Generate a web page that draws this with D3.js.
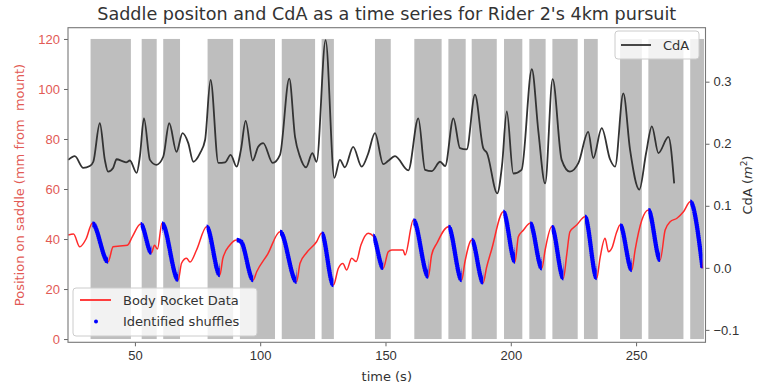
<!DOCTYPE html>
<html>
<head>
<meta charset="utf-8">
<script src="https://cdn.jsdelivr.net/npm/d3@7"></script>
<style>
  html, body { margin: 0; padding: 0; background: #fff; }
  svg { display: block; font-family: "DejaVu Sans", sans-serif; }
  .axis path { display: none; }
  .axis text { font-size: 13px; }
</style>
</head>
<body>
<svg id="chart" width="767" height="385"></svg>
<script>
// Saddle position (mm): [time s, position]
const saddleData = [
  [23.4, 41.6], [25.5, 42], [28, 36.9], [30.5, 40], [33, 46.3], [39.3, 30.9],
  [41.3, 36.9], [44, 37.2], [47, 37.5], [49, 41], [52.3, 46], [56.6, 34.5],
  [57.8, 37.5], [59, 36], [60.8, 46.3], [67.3, 23.6], [68.6, 30.3], [70.6, 32.3],
  [72, 30.8], [74.6, 35.6], [78.6, 44.9], [83.9, 25.6], [85.1, 32.3], [87.9, 37.6],
  [90.6, 39.6], [92.3, 39], [97.2, 23.6], [98.6, 26.9], [103, 34], [107.9, 42.9],
  [114.5, 22.9], [115.9, 30.3], [118.5, 34.5], [122.5, 38.9], [124.5, 42.3],
  [129.2, 21.6], [131.2, 28.3], [133, 30.2], [134.5, 27.6], [136.5, 32.3],
  [138.3, 31], [140.2, 37.6], [143.1, 42.3], [145.1, 41.2], [149.1, 28.3],
  [151.1, 34.9], [152.5, 35.6], [157, 35.6], [157.8, 33.6], [161.1, 47.6],
  [167.1, 24.9], [168.4, 33.6], [170.5, 38.3], [175.1, 44.9], [180.4, 23.6],
  [181.7, 30.9], [184.4, 39.6], [189, 22.5], [190.3, 28.5], [192.3, 35.6],
  [197, 50.9], [201.7, 30.9], [203, 40.9], [205, 43.5], [207.7, 46.3],
  [212.4, 28.3], [213.7, 35.6], [216.3, 44.9], [221, 24.3], [222.3, 33.6],
  [223.6, 42.9], [226.3, 45.6], [229.6, 48.9], [234.3, 24.3], [235.6, 32.3],
  [237.6, 40.3], [239, 34.9], [240.3, 36.3], [242.3, 42.9], [243.6, 45.6],
  [248.3, 27.6], [249.6, 35.6], [252.3, 47.6], [254.9, 51.6], [259.6, 31.6],
  [261.6, 43.6], [263.6, 46.9], [266.3, 48.3], [268.9, 50.9], [271.6, 54.9],
  [276.5, 28.3]
];

// Time windows where shuffles were identified (blue dots), [start, end]
const shuffleWindows = [
  [33, 39.3], [52.3, 56.6], [60.8, 67.3], [78.6, 83.9], [90.6, 97.2],
  [107.9, 114.5], [124.5, 129.2], [145.1, 149.1], [161.1, 167.1], [175.1, 180.4],
  [184.4, 189], [197, 201.7], [207.7, 212.4], [216.3, 221], [229.6, 234.3],
  [243.6, 248.3], [254.9, 259.6], [271.6, 276.5]
];

// Grey shaded spans, [start, end] in seconds
const greySpans = [
  [32.3, 48.4], [52.7, 58.7], [61.3, 68.0], [79.0, 89.2], [91.9, 105.9],
  [108.6, 121.9], [124.5, 129.4], [145.8, 152.1], [161.5, 172.4], [175.1, 182.0],
  [184.4, 194.4], [197.3, 204.6], [207.4, 213.9], [216.6, 226.7], [229.2, 234.7],
  [243.6, 252.3], [254.9, 268.9], [271.6, 277.1]
];
const spanRange = [0, 120];

// CdA (m^2): [time s, CdA]
const cdaData = [
  [23.4, 0.174], [26, 0.180], [29.4, 0.161], [32, 0.164], [33.4, 0.171], [36, 0.233],
  [38, 0.174], [39.3, 0.155], [41.3, 0.161], [42.7, 0.175], [45, 0.172], [46.5, 0.170],
  [48, 0.173], [50.7, 0.153], [52, 0.18], [53.6, 0.241], [56, 0.174], [58.6, 0.166],
  [61.3, 0.179], [63.7, 0.233], [66.6, 0.187], [69, 0.217], [71.3, 0.201], [73.3, 0.171],
  [76, 0.185], [78, 0.206], [80.2, 0.303], [83.3, 0.169], [86, 0.170], [88.2, 0.182],
  [90.6, 0.163], [92.3, 0.190], [94.2, 0.237], [97, 0.173], [99.2, 0.195], [101.2, 0.201],
  [105, 0.169], [107.9, 0.182], [111.6, 0.305], [113.9, 0.211], [115.8, 0.180],
  [118.3, 0.162], [120.8, 0.185], [122.5, 0.171], [126.1, 0.367], [129.6, 0.145],
  [131.8, 0.174], [133.8, 0.162], [137.1, 0.195], [140.5, 0.163], [143, 0.183],
  [145.8, 0.217], [149.1, 0.167], [151, 0.172], [153.8, 0.180], [159.1, 0.157],
  [163.1, 0.241], [165.8, 0.158], [168.5, 0.156], [171.8, 0.171], [173.8, 0.164],
  [177.1, 0.241], [179.7, 0.193], [182.4, 0.191], [185.7, 0.279], [189, 0.193],
  [190.5, 0.185], [194.6, 0.120], [196.5, 0.165], [198.4, 0.252], [201, 0.152],
  [204.3, 0.158], [208.4, 0.320], [211, 0.22], [213.7, 0.136], [216.7, 0.304],
  [220.3, 0.174], [223.6, 0.155], [227, 0.169], [230.9, 0.219], [232.9, 0.177],
  [236.3, 0.225], [239.6, 0.175], [241.6, 0.163], [244.9, 0.281], [247.6, 0.19],
  [251.3, 0.126], [254, 0.185], [256.3, 0.228], [258.9, 0.185], [262.9, 0.211],
  [265.2, 0.136]
];

const xTicks = [50, 100, 150, 200, 250];
const leftTicks = [0, 20, 40, 60, 80, 100, 120];
const rightTicks = [-0.1, 0, 0.1, 0.2, 0.3];

const title = "Saddle positon and CdA as a time series for Rider 2's 4km pursuit";

const RED = '#ff2a2a';
const RED_TEXT = '#e25a55';
const BLUE = '#0000ff';
const DARK = '#333333';

const plot = { left: 68, right: 705.5, top: 27.7, bottom: 342.3 };
const svg = d3.select('#chart');

const x = d3.scaleLinear().domain([23.3, 277.7]).range([plot.left, plot.right]);
const yLeft = d3.scaleLinear().domain([-1.3, 124.5]).range([plot.bottom, plot.top]);
const yRight = d3.scaleLinear().domain([-0.12, 0.387]).range([plot.bottom, plot.top]);

// grey spans behind everything
svg.append('g').selectAll('rect')
  .data(greySpans)
  .join('rect')
  .attr('x', d => x(d[0]))
  .attr('width', d => x(d[1]) - x(d[0]))
  .attr('y', yLeft(spanRange[1]))
  .attr('height', yLeft(spanRange[0]) - yLeft(spanRange[1]))
  .attr('fill', '#bebebe');

const saddleLine = d3.line()
  .x(d => x(d[0]))
  .y(d => yLeft(d[1]))
  .curve(d3.curveMonotoneX);

svg.append('path')
  .attr('d', saddleLine(saddleData))
  .attr('fill', 'none')
  .attr('stroke', RED)
  .attr('stroke-width', 1.5);

// shuffles: same trace drawn as dense blue dots, clipped to the windows
const clip = svg.append('clipPath').attr('id', 'shuffle-clip');
clip.selectAll('rect')
  .data(shuffleWindows)
  .join('rect')
  .attr('x', d => x(d[0]))
  .attr('width', d => x(d[1]) - x(d[0]))
  .attr('y', plot.top)
  .attr('height', plot.bottom - plot.top);

svg.append('path')
  .attr('d', saddleLine(saddleData))
  .attr('clip-path', 'url(#shuffle-clip)')
  .attr('fill', 'none')
  .attr('stroke', BLUE)
  .attr('stroke-width', 4.6)
  .attr('stroke-linecap', 'round')
  .attr('stroke-dasharray', '0 2.2');

const cdaLine = d3.line()
  .x(d => x(d[0]))
  .y(d => yRight(d[1]))
  .curve(d3.curveMonotoneX);

svg.append('path')
  .attr('d', cdaLine(cdaData))
  .attr('fill', 'none')
  .attr('stroke', DARK)
  .attr('stroke-width', 1.8);

// axes
const tickLen = 4;
const gx = svg.append('g')
  .attr('class', 'axis')
  .attr('transform', `translate(0,${plot.bottom})`)
  .call(d3.axisBottom(x).tickValues(xTicks).tickSize(tickLen).tickPadding(4));
gx.selectAll('text').attr('fill', DARK);

const gl = svg.append('g')
  .attr('class', 'axis')
  .attr('transform', `translate(${plot.left},0)`)
  .call(d3.axisLeft(yLeft).tickValues(leftTicks).tickSize(tickLen).tickPadding(4));
gl.selectAll('text').attr('fill', RED_TEXT);

const gr = svg.append('g')
  .attr('class', 'axis')
  .attr('transform', `translate(${plot.right},0)`)
  .call(d3.axisRight(yRight).tickValues(rightTicks).tickSize(tickLen).tickPadding(4)
    .tickFormat(d => d3.format('.1f')(d).replace('-', '\u2212')));
gr.selectAll('text').attr('fill', DARK);

svg.selectAll('.axis line').attr('stroke', '#666');

// frame
svg.append('rect')
  .attr('x', plot.left).attr('y', plot.top)
  .attr('width', plot.right - plot.left).attr('height', plot.bottom - plot.top)
  .attr('fill', 'none').attr('stroke', '#777').attr('stroke-width', 1.1);

// labels
const midY = (plot.top + plot.bottom) / 2;
svg.append('text')
  .attr('x', (plot.left + plot.right) / 2).attr('y', 20)
  .attr('text-anchor', 'middle').attr('font-size', 17.6).attr('fill', DARK)
  .text(title);

svg.append('text')
  .attr('x', (plot.left + plot.right) / 2).attr('y', 381)
  .attr('text-anchor', 'middle').attr('font-size', 13).attr('fill', DARK)
  .text('time (s)');

svg.append('text')
  .attr('transform', `translate(24,${midY}) rotate(-90)`)
  .attr('text-anchor', 'middle').attr('font-size', 13).attr('fill', RED_TEXT)
  .style('white-space', 'pre')
  .text('Position on saddle (mm from  mount)');

const rl = svg.append('text')
  .attr('transform', `translate(752,${midY}) rotate(-90)`)
  .attr('text-anchor', 'middle').attr('font-size', 13).attr('fill', DARK);
rl.append('tspan').text('CdA (');
rl.append('tspan').attr('font-style', 'italic').text('m');
rl.append('tspan').attr('font-size', 9).attr('dy', -5).text('2');
rl.append('tspan').attr('dy', 5).text(')');

// legends
function legendBox(x0, y0, w, h) {
  svg.append('rect')
    .attr('x', x0).attr('y', y0).attr('width', w).attr('height', h)
    .attr('rx', 3)
    .attr('fill', '#fff').attr('fill-opacity', 0.8)
    .attr('stroke', '#cccccc').attr('stroke-width', 1);
}

legendBox(73, 288, 184, 48);
svg.append('line')
  .attr('x1', 80).attr('x2', 111).attr('y1', 300).attr('y2', 300)
  .attr('stroke', RED).attr('stroke-width', 1.8);
svg.append('text').attr('x', 123).attr('y', 304.5)
  .attr('font-size', 13).attr('fill', DARK).text('Body Rocket Data');
svg.append('circle').attr('cx', 96).attr('cy', 321.5).attr('r', 2).attr('fill', BLUE);
svg.append('text').attr('x', 123).attr('y', 326)
  .attr('font-size', 13).attr('fill', DARK).text('Identified shuffles');

legendBox(615, 31, 84, 28);
svg.append('line')
  .attr('x1', 621).attr('x2', 651).attr('y1', 45).attr('y2', 45)
  .attr('stroke', DARK).attr('stroke-width', 1.8);
svg.append('text').attr('x', 663).attr('y', 49.5)
  .attr('font-size', 13).attr('fill', DARK).text('CdA');
</script>
</body>
</html>
